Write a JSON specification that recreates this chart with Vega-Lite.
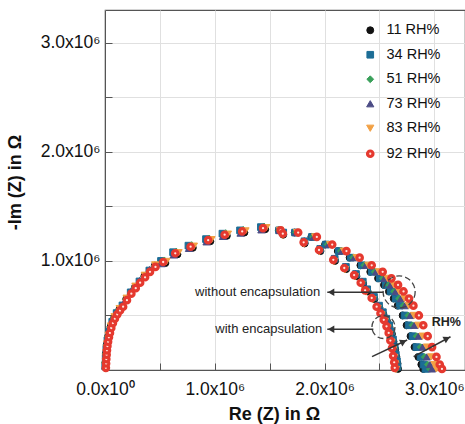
{
  "$schema": "https://vega.github.io/schema/vega-lite/v6.json",
  "width": 360,
  "height": 360,
  "autosize": "none",
  "padding": {"left": 105, "top": 10, "right": 0, "bottom": 54},
  "background": "white",
  "config": {
    "font": "Liberation Sans",
    "view": {"stroke": "#555", "strokeWidth": 1.2},
    "legend": {"orient": "none", "legendX": 258, "legendY": 13, "labelFontSize": 14.5, "labelColor": "#111", "symbolSize": 50, "rowPadding": 9.5, "labelOffset": 9, "labelFont": "Liberation Sans"}
  },
  "layer": [
    {
      "data": {"values": [
        {"rh":"11 RH%","enc":"without","re":4000,"im":72000},{"rh":"11 RH%","enc":"without","re":9000,"im":152000},{"rh":"11 RH%","enc":"without","re":16000,"im":232000},{"rh":"11 RH%","enc":"without","re":30000,"im":312000},{"rh":"11 RH%","enc":"without","re":51000,"im":397000},{"rh":"11 RH%","enc":"without","re":84000,"im":482000},{"rh":"11 RH%","enc":"without","re":131000,"im":557000},{"rh":"11 RH%","enc":"without","re":194000,"im":652000},{"rh":"11 RH%","enc":"without","re":274000,"im":762000},{"rh":"11 RH%","enc":"without","re":359000,"im":862000},{"rh":"11 RH%","enc":"without","re":454000,"im":957000},
        {"rh":"11 RH%","enc":"without","re":550000,"im":980000},{"rh":"11 RH%","enc":"without","re":660000,"im":1060000},{"rh":"11 RH%","enc":"without","re":800000,"im":1120000},{"rh":"11 RH%","enc":"without","re":960000,"im":1180000},{"rh":"11 RH%","enc":"without","re":1110000,"im":1230000},{"rh":"11 RH%","enc":"without","re":1270000,"im":1260000},{"rh":"11 RH%","enc":"without","re":1460000,"im":1290000},
        {"rh":"11 RH%","enc":"without","re":1584000,"im":1280000},{"rh":"11 RH%","enc":"without","re":1728000,"im":1260000},{"rh":"11 RH%","enc":"without","re":1880000,"im":1220000},{"rh":"11 RH%","enc":"without","re":2005000,"im":1150000},{"rh":"11 RH%","enc":"without","re":2121000,"im":1090000},{"rh":"11 RH%","enc":"without","re":2229000,"im":1030000},{"rh":"11 RH%","enc":"without","re":2327000,"im":960000},{"rh":"11 RH%","enc":"without","re":2417000,"im":900000},{"rh":"11 RH%","enc":"without","re":2488000,"im":840000},{"rh":"11 RH%","enc":"without","re":2542000,"im":780000},{"rh":"11 RH%","enc":"without","re":2587000,"im":720000},{"rh":"11 RH%","enc":"without","re":2631000,"im":655000},{"rh":"11 RH%","enc":"without","re":2667000,"im":590000},{"rh":"11 RH%","enc":"without","re":2712000,"im":500000},{"rh":"11 RH%","enc":"without","re":2748000,"im":410000},{"rh":"11 RH%","enc":"without","re":2784000,"im":310000},{"rh":"11 RH%","enc":"without","re":2820000,"im":210000},{"rh":"11 RH%","enc":"without","re":2855000,"im":120000},{"rh":"11 RH%","enc":"without","re":2882000,"im":50000},{"rh":"11 RH%","enc":"without","re":2900000,"im":10000},
        {"rh":"34 RH%","enc":"without","re":2000,"im":32000},{"rh":"34 RH%","enc":"without","re":6000,"im":112000},{"rh":"34 RH%","enc":"without","re":12000,"im":192000},{"rh":"34 RH%","enc":"without","re":22000,"im":272000},{"rh":"34 RH%","enc":"without","re":39000,"im":352000},{"rh":"34 RH%","enc":"without","re":66000,"im":442000},{"rh":"34 RH%","enc":"without","re":106000,"im":522000},{"rh":"34 RH%","enc":"without","re":159000,"im":592000},{"rh":"34 RH%","enc":"without","re":234000,"im":712000},{"rh":"34 RH%","enc":"without","re":314000,"im":812000},{"rh":"34 RH%","enc":"without","re":404000,"im":912000},
        {"rh":"34 RH%","enc":"without","re":510000,"im":1000000},{"rh":"34 RH%","enc":"without","re":620000,"im":1080000},{"rh":"34 RH%","enc":"without","re":760000,"im":1140000},{"rh":"34 RH%","enc":"without","re":920000,"im":1200000},{"rh":"34 RH%","enc":"without","re":1070000,"im":1250000},{"rh":"34 RH%","enc":"without","re":1230000,"im":1280000},{"rh":"34 RH%","enc":"without","re":1420000,"im":1310000},
        {"rh":"34 RH%","enc":"without","re":1586000,"im":1280000},{"rh":"34 RH%","enc":"without","re":1731000,"im":1260000},{"rh":"34 RH%","enc":"without","re":1886000,"im":1220000},{"rh":"34 RH%","enc":"without","re":2013000,"im":1150000},{"rh":"34 RH%","enc":"without","re":2131000,"im":1090000},{"rh":"34 RH%","enc":"without","re":2239000,"im":1030000},{"rh":"34 RH%","enc":"without","re":2339000,"im":960000},{"rh":"34 RH%","enc":"without","re":2430000,"im":900000},{"rh":"34 RH%","enc":"without","re":2503000,"im":840000},{"rh":"34 RH%","enc":"without","re":2557000,"im":780000},{"rh":"34 RH%","enc":"without","re":2602000,"im":720000},{"rh":"34 RH%","enc":"without","re":2648000,"im":655000},{"rh":"34 RH%","enc":"without","re":2684000,"im":590000},{"rh":"34 RH%","enc":"without","re":2729000,"im":500000},{"rh":"34 RH%","enc":"without","re":2766000,"im":410000},{"rh":"34 RH%","enc":"without","re":2802000,"im":310000},{"rh":"34 RH%","enc":"without","re":2838000,"im":210000},{"rh":"34 RH%","enc":"without","re":2875000,"im":120000},{"rh":"34 RH%","enc":"without","re":2902000,"im":50000},{"rh":"34 RH%","enc":"without","re":2920000,"im":10000},
        {"rh":"51 RH%","enc":"without","re":0,"im":68000},{"rh":"51 RH%","enc":"without","re":5000,"im":148000},{"rh":"51 RH%","enc":"without","re":12000,"im":228000},{"rh":"51 RH%","enc":"without","re":26000,"im":308000},{"rh":"51 RH%","enc":"without","re":47000,"im":393000},{"rh":"51 RH%","enc":"without","re":80000,"im":478000},{"rh":"51 RH%","enc":"without","re":127000,"im":553000},{"rh":"51 RH%","enc":"without","re":190000,"im":648000},{"rh":"51 RH%","enc":"without","re":270000,"im":758000},{"rh":"51 RH%","enc":"without","re":355000,"im":858000},{"rh":"51 RH%","enc":"without","re":450000,"im":953000},
        {"rh":"51 RH%","enc":"without","re":540000,"im":1005000},{"rh":"51 RH%","enc":"without","re":650000,"im":1085000},{"rh":"51 RH%","enc":"without","re":790000,"im":1145000},{"rh":"51 RH%","enc":"without","re":950000,"im":1205000},{"rh":"51 RH%","enc":"without","re":1100000,"im":1255000},{"rh":"51 RH%","enc":"without","re":1260000,"im":1285000},{"rh":"51 RH%","enc":"without","re":1450000,"im":1315000},
        {"rh":"51 RH%","enc":"without","re":1590000,"im":1280000},{"rh":"51 RH%","enc":"without","re":1739000,"im":1260000},{"rh":"51 RH%","enc":"without","re":1897000,"im":1220000},{"rh":"51 RH%","enc":"without","re":2028000,"im":1150000},{"rh":"51 RH%","enc":"without","re":2149000,"im":1090000},{"rh":"51 RH%","enc":"without","re":2261000,"im":1030000},{"rh":"51 RH%","enc":"without","re":2363000,"im":960000},{"rh":"51 RH%","enc":"without","re":2457000,"im":900000},{"rh":"51 RH%","enc":"without","re":2531000,"im":840000},{"rh":"51 RH%","enc":"without","re":2587000,"im":780000},{"rh":"51 RH%","enc":"without","re":2634000,"im":720000},{"rh":"51 RH%","enc":"without","re":2680000,"im":655000},{"rh":"51 RH%","enc":"without","re":2718000,"im":590000},{"rh":"51 RH%","enc":"without","re":2764000,"im":500000},{"rh":"51 RH%","enc":"without","re":2802000,"im":410000},{"rh":"51 RH%","enc":"without","re":2839000,"im":310000},{"rh":"51 RH%","enc":"without","re":2876000,"im":210000},{"rh":"51 RH%","enc":"without","re":2913000,"im":120000},{"rh":"51 RH%","enc":"without","re":2941000,"im":50000},{"rh":"51 RH%","enc":"without","re":2960000,"im":10000},
        {"rh":"73 RH%","enc":"without","re":4000,"im":40000},{"rh":"73 RH%","enc":"without","re":8000,"im":120000},{"rh":"73 RH%","enc":"without","re":14000,"im":200000},{"rh":"73 RH%","enc":"without","re":24000,"im":280000},{"rh":"73 RH%","enc":"without","re":41000,"im":360000},{"rh":"73 RH%","enc":"without","re":68000,"im":450000},{"rh":"73 RH%","enc":"without","re":108000,"im":530000},{"rh":"73 RH%","enc":"without","re":161000,"im":600000},{"rh":"73 RH%","enc":"without","re":236000,"im":720000},{"rh":"73 RH%","enc":"without","re":316000,"im":820000},{"rh":"73 RH%","enc":"without","re":406000,"im":920000},
        {"rh":"73 RH%","enc":"without","re":515000,"im":975000},{"rh":"73 RH%","enc":"without","re":625000,"im":1055000},{"rh":"73 RH%","enc":"without","re":765000,"im":1115000},{"rh":"73 RH%","enc":"without","re":925000,"im":1175000},{"rh":"73 RH%","enc":"without","re":1075000,"im":1225000},{"rh":"73 RH%","enc":"without","re":1235000,"im":1255000},{"rh":"73 RH%","enc":"without","re":1425000,"im":1285000},
        {"rh":"73 RH%","enc":"without","re":1592000,"im":1280000},{"rh":"73 RH%","enc":"without","re":1743000,"im":1260000},{"rh":"73 RH%","enc":"without","re":1903000,"im":1220000},{"rh":"73 RH%","enc":"without","re":2036000,"im":1150000},{"rh":"73 RH%","enc":"without","re":2158000,"im":1090000},{"rh":"73 RH%","enc":"without","re":2272000,"im":1030000},{"rh":"73 RH%","enc":"without","re":2376000,"im":960000},{"rh":"73 RH%","enc":"without","re":2470000,"im":900000},{"rh":"73 RH%","enc":"without","re":2546000,"im":840000},{"rh":"73 RH%","enc":"without","re":2602000,"im":780000},{"rh":"73 RH%","enc":"without","re":2649000,"im":720000},{"rh":"73 RH%","enc":"without","re":2697000,"im":655000},{"rh":"73 RH%","enc":"without","re":2734000,"im":590000},{"rh":"73 RH%","enc":"without","re":2782000,"im":500000},{"rh":"73 RH%","enc":"without","re":2819000,"im":410000},{"rh":"73 RH%","enc":"without","re":2857000,"im":310000},{"rh":"73 RH%","enc":"without","re":2895000,"im":210000},{"rh":"73 RH%","enc":"without","re":2933000,"im":120000},{"rh":"73 RH%","enc":"without","re":2961000,"im":50000},{"rh":"73 RH%","enc":"without","re":2980000,"im":10000},
        {"rh":"83 RH%","enc":"without","re":7000,"im":78000},{"rh":"83 RH%","enc":"without","re":12000,"im":158000},{"rh":"83 RH%","enc":"without","re":19000,"im":238000},{"rh":"83 RH%","enc":"without","re":33000,"im":318000},{"rh":"83 RH%","enc":"without","re":54000,"im":403000},{"rh":"83 RH%","enc":"without","re":87000,"im":488000},{"rh":"83 RH%","enc":"without","re":134000,"im":563000},{"rh":"83 RH%","enc":"without","re":197000,"im":658000},{"rh":"83 RH%","enc":"without","re":277000,"im":768000},{"rh":"83 RH%","enc":"without","re":362000,"im":868000},{"rh":"83 RH%","enc":"without","re":457000,"im":963000},
        {"rh":"83 RH%","enc":"without","re":560000,"im":995000},{"rh":"83 RH%","enc":"without","re":670000,"im":1075000},{"rh":"83 RH%","enc":"without","re":810000,"im":1135000},{"rh":"83 RH%","enc":"without","re":970000,"im":1195000},{"rh":"83 RH%","enc":"without","re":1120000,"im":1245000},{"rh":"83 RH%","enc":"without","re":1280000,"im":1275000},{"rh":"83 RH%","enc":"without","re":1470000,"im":1305000},
        {"rh":"83 RH%","enc":"without","re":1595000,"im":1280000},{"rh":"83 RH%","enc":"without","re":1750000,"im":1260000},{"rh":"83 RH%","enc":"without","re":1915000,"im":1220000},{"rh":"83 RH%","enc":"without","re":2051000,"im":1150000},{"rh":"83 RH%","enc":"without","re":2177000,"im":1090000},{"rh":"83 RH%","enc":"without","re":2293000,"im":1030000},{"rh":"83 RH%","enc":"without","re":2400000,"im":960000},{"rh":"83 RH%","enc":"without","re":2497000,"im":900000},{"rh":"83 RH%","enc":"without","re":2574000,"im":840000},{"rh":"83 RH%","enc":"without","re":2632000,"im":780000},{"rh":"83 RH%","enc":"without","re":2681000,"im":720000},{"rh":"83 RH%","enc":"without","re":2729000,"im":655000},{"rh":"83 RH%","enc":"without","re":2768000,"im":590000},{"rh":"83 RH%","enc":"without","re":2816000,"im":500000},{"rh":"83 RH%","enc":"without","re":2855000,"im":410000},{"rh":"83 RH%","enc":"without","re":2894000,"im":310000},{"rh":"83 RH%","enc":"without","re":2933000,"im":210000},{"rh":"83 RH%","enc":"without","re":2972000,"im":120000},{"rh":"83 RH%","enc":"without","re":3001000,"im":50000},{"rh":"83 RH%","enc":"without","re":3020000,"im":10000},
        {"rh":"11 RH%","enc":"with","re":1624000,"im":1240000},{"rh":"11 RH%","enc":"with","re":1819000,"im":1160000},{"rh":"11 RH%","enc":"with","re":1963000,"im":1090000},{"rh":"11 RH%","enc":"with","re":2096000,"im":1000000},{"rh":"11 RH%","enc":"with","re":2198000,"im":925000},{"rh":"11 RH%","enc":"with","re":2291000,"im":860000},{"rh":"11 RH%","enc":"with","re":2352000,"im":790000},{"rh":"11 RH%","enc":"with","re":2393000,"im":720000},{"rh":"11 RH%","enc":"with","re":2455000,"im":650000},{"rh":"11 RH%","enc":"with","re":2501000,"im":570000},{"rh":"11 RH%","enc":"with","re":2537000,"im":510000},{"rh":"11 RH%","enc":"with","re":2568000,"im":450000},{"rh":"11 RH%","enc":"with","re":2593000,"im":390000},{"rh":"11 RH%","enc":"with","re":2614000,"im":330000},{"rh":"11 RH%","enc":"with","re":2629000,"im":260000},{"rh":"11 RH%","enc":"with","re":2644000,"im":190000},{"rh":"11 RH%","enc":"with","re":2655000,"im":120000},{"rh":"11 RH%","enc":"with","re":2665000,"im":60000},{"rh":"11 RH%","enc":"with","re":2670000,"im":10000},
        {"rh":"34 RH%","enc":"with","re":1624000,"im":1260000},{"rh":"34 RH%","enc":"with","re":1818000,"im":1180000},{"rh":"34 RH%","enc":"with","re":1961000,"im":1110000},{"rh":"34 RH%","enc":"with","re":2093000,"im":1020000},{"rh":"34 RH%","enc":"with","re":2195000,"im":945000},{"rh":"34 RH%","enc":"with","re":2287000,"im":880000},{"rh":"34 RH%","enc":"with","re":2349000,"im":810000},{"rh":"34 RH%","enc":"with","re":2389000,"im":740000},{"rh":"34 RH%","enc":"with","re":2451000,"im":670000},{"rh":"34 RH%","enc":"with","re":2497000,"im":590000},{"rh":"34 RH%","enc":"with","re":2532000,"im":530000},{"rh":"34 RH%","enc":"with","re":2563000,"im":470000},{"rh":"34 RH%","enc":"with","re":2589000,"im":410000},{"rh":"34 RH%","enc":"with","re":2609000,"im":350000},{"rh":"34 RH%","enc":"with","re":2624000,"im":280000},{"rh":"34 RH%","enc":"with","re":2640000,"im":210000},{"rh":"34 RH%","enc":"with","re":2650000,"im":140000},{"rh":"34 RH%","enc":"with","re":2660000,"im":80000},{"rh":"34 RH%","enc":"with","re":2665000,"im":30000},
        {"rh":"51 RH%","enc":"with","re":1623000,"im":1245000},{"rh":"51 RH%","enc":"with","re":1816000,"im":1165000},{"rh":"51 RH%","enc":"with","re":1958000,"im":1095000},{"rh":"51 RH%","enc":"with","re":2091000,"im":1005000},{"rh":"51 RH%","enc":"with","re":2192000,"im":930000},{"rh":"51 RH%","enc":"with","re":2284000,"im":865000},{"rh":"51 RH%","enc":"with","re":2345000,"im":795000},{"rh":"51 RH%","enc":"with","re":2385000,"im":725000},{"rh":"51 RH%","enc":"with","re":2446000,"im":655000},{"rh":"51 RH%","enc":"with","re":2492000,"im":575000},{"rh":"51 RH%","enc":"with","re":2528000,"im":515000},{"rh":"51 RH%","enc":"with","re":2558000,"im":455000},{"rh":"51 RH%","enc":"with","re":2584000,"im":395000},{"rh":"51 RH%","enc":"with","re":2604000,"im":335000},{"rh":"51 RH%","enc":"with","re":2619000,"im":265000},{"rh":"51 RH%","enc":"with","re":2635000,"im":195000},{"rh":"51 RH%","enc":"with","re":2645000,"im":125000},{"rh":"51 RH%","enc":"with","re":2655000,"im":65000},{"rh":"51 RH%","enc":"with","re":2660000,"im":15000},
        {"rh":"73 RH%","enc":"with","re":1622000,"im":1265000},{"rh":"73 RH%","enc":"with","re":1815000,"im":1185000},{"rh":"73 RH%","enc":"with","re":1956000,"im":1115000},{"rh":"73 RH%","enc":"with","re":2088000,"im":1025000},{"rh":"73 RH%","enc":"with","re":2189000,"im":950000},{"rh":"73 RH%","enc":"with","re":2280000,"im":885000},{"rh":"73 RH%","enc":"with","re":2341000,"im":815000},{"rh":"73 RH%","enc":"with","re":2382000,"im":745000},{"rh":"73 RH%","enc":"with","re":2442000,"im":675000},{"rh":"73 RH%","enc":"with","re":2488000,"im":595000},{"rh":"73 RH%","enc":"with","re":2523000,"im":535000},{"rh":"73 RH%","enc":"with","re":2554000,"im":475000},{"rh":"73 RH%","enc":"with","re":2579000,"im":415000},{"rh":"73 RH%","enc":"with","re":2599000,"im":355000},{"rh":"73 RH%","enc":"with","re":2615000,"im":285000},{"rh":"73 RH%","enc":"with","re":2630000,"im":215000},{"rh":"73 RH%","enc":"with","re":2640000,"im":145000},{"rh":"73 RH%","enc":"with","re":2650000,"im":85000},{"rh":"73 RH%","enc":"with","re":2655000,"im":35000},
        {"rh":"83 RH%","enc":"with","re":1621000,"im":1235000},{"rh":"83 RH%","enc":"with","re":1813000,"im":1155000},{"rh":"83 RH%","enc":"with","re":1954000,"im":1085000},{"rh":"83 RH%","enc":"with","re":2085000,"im":995000},{"rh":"83 RH%","enc":"with","re":2186000,"im":920000},{"rh":"83 RH%","enc":"with","re":2277000,"im":855000},{"rh":"83 RH%","enc":"with","re":2337000,"im":785000},{"rh":"83 RH%","enc":"with","re":2378000,"im":715000},{"rh":"83 RH%","enc":"with","re":2438000,"im":645000},{"rh":"83 RH%","enc":"with","re":2484000,"im":565000},{"rh":"83 RH%","enc":"with","re":2519000,"im":505000},{"rh":"83 RH%","enc":"with","re":2549000,"im":445000},{"rh":"83 RH%","enc":"with","re":2574000,"im":385000},{"rh":"83 RH%","enc":"with","re":2595000,"im":325000},{"rh":"83 RH%","enc":"with","re":2610000,"im":255000},{"rh":"83 RH%","enc":"with","re":2625000,"im":185000},{"rh":"83 RH%","enc":"with","re":2635000,"im":115000},{"rh":"83 RH%","enc":"with","re":2645000,"im":55000},{"rh":"83 RH%","enc":"with","re":2650000,"im":5000},
        {"rh":"92 RH%","enc":"without","re":8000,"im":20000},{"rh":"92 RH%","enc":"without","re":10000,"im":60000},{"rh":"92 RH%","enc":"without","re":12000,"im":100000},{"rh":"92 RH%","enc":"without","re":15000,"im":140000},{"rh":"92 RH%","enc":"without","re":18000,"im":180000},{"rh":"92 RH%","enc":"without","re":22000,"im":220000},{"rh":"92 RH%","enc":"without","re":28000,"im":260000},{"rh":"92 RH%","enc":"without","re":36000,"im":300000},{"rh":"92 RH%","enc":"without","re":45000,"im":340000},{"rh":"92 RH%","enc":"without","re":57000,"im":385000},{"rh":"92 RH%","enc":"without","re":72000,"im":430000},{"rh":"92 RH%","enc":"without","re":90000,"im":470000},{"rh":"92 RH%","enc":"without","re":112000,"im":510000},{"rh":"92 RH%","enc":"without","re":137000,"im":545000},{"rh":"92 RH%","enc":"without","re":165000,"im":580000},{"rh":"92 RH%","enc":"without","re":200000,"im":640000},{"rh":"92 RH%","enc":"without","re":240000,"im":700000},{"rh":"92 RH%","enc":"without","re":280000,"im":750000},{"rh":"92 RH%","enc":"without","re":320000,"im":800000},{"rh":"92 RH%","enc":"without","re":365000,"im":850000},{"rh":"92 RH%","enc":"without","re":410000,"im":900000},{"rh":"92 RH%","enc":"without","re":460000,"im":945000},
        {"rh":"92 RH%","enc":"without","re":530000,"im":990000},{"rh":"92 RH%","enc":"without","re":640000,"im":1070000},{"rh":"92 RH%","enc":"without","re":780000,"im":1130000},{"rh":"92 RH%","enc":"without","re":940000,"im":1190000},{"rh":"92 RH%","enc":"without","re":1090000,"im":1240000},{"rh":"92 RH%","enc":"without","re":1250000,"im":1270000},{"rh":"92 RH%","enc":"without","re":1440000,"im":1300000},{"rh":"92 RH%","enc":"without","re":1600000,"im":1280000},{"rh":"92 RH%","enc":"without","re":1760000,"im":1260000},
        {"rh":"92 RH%","enc":"without","re":1930000,"im":1220000},{"rh":"92 RH%","enc":"without","re":2070000,"im":1150000},{"rh":"92 RH%","enc":"without","re":2200000,"im":1090000},{"rh":"92 RH%","enc":"without","re":2320000,"im":1030000},{"rh":"92 RH%","enc":"without","re":2430000,"im":960000},{"rh":"92 RH%","enc":"without","re":2530000,"im":900000},{"rh":"92 RH%","enc":"without","re":2610000,"im":840000},{"rh":"92 RH%","enc":"without","re":2670000,"im":780000},{"rh":"92 RH%","enc":"without","re":2720000,"im":720000},{"rh":"92 RH%","enc":"without","re":2770000,"im":655000},{"rh":"92 RH%","enc":"without","re":2810000,"im":590000},{"rh":"92 RH%","enc":"without","re":2860000,"im":500000},{"rh":"92 RH%","enc":"without","re":2900000,"im":410000},{"rh":"92 RH%","enc":"without","re":2940000,"im":310000},{"rh":"92 RH%","enc":"without","re":2980000,"im":210000},{"rh":"92 RH%","enc":"without","re":3020000,"im":120000},{"rh":"92 RH%","enc":"without","re":3050000,"im":50000},{"rh":"92 RH%","enc":"without","re":3070000,"im":10000},
        {"rh":"92 RH%","enc":"with","re":1620000,"im":1250000},{"rh":"92 RH%","enc":"with","re":1810000,"im":1170000},{"rh":"92 RH%","enc":"with","re":1950000,"im":1100000},{"rh":"92 RH%","enc":"with","re":2080000,"im":1010000},{"rh":"92 RH%","enc":"with","re":2180000,"im":935000},{"rh":"92 RH%","enc":"with","re":2270000,"im":870000},{"rh":"92 RH%","enc":"with","re":2330000,"im":800000},{"rh":"92 RH%","enc":"with","re":2370000,"im":730000},{"rh":"92 RH%","enc":"with","re":2430000,"im":660000},{"rh":"92 RH%","enc":"with","re":2475000,"im":580000},{"rh":"92 RH%","enc":"with","re":2510000,"im":520000},{"rh":"92 RH%","enc":"with","re":2540000,"im":460000},{"rh":"92 RH%","enc":"with","re":2565000,"im":400000},{"rh":"92 RH%","enc":"with","re":2585000,"im":340000},{"rh":"92 RH%","enc":"with","re":2600000,"im":270000},{"rh":"92 RH%","enc":"with","re":2615000,"im":200000},{"rh":"92 RH%","enc":"with","re":2625000,"im":130000},{"rh":"92 RH%","enc":"with","re":2635000,"im":70000},{"rh":"92 RH%","enc":"with","re":2640000,"im":20000}
      ]},
      "mark": {"type": "point", "filled": true, "opacity": 1},
      "encoding": {
        "x": {"field": "re", "type": "quantitative", "scale": {"domain": [0, 3280000], "nice": false, "zero": false},
          "axis": {"values": [0, 500000, 1000000, 1500000, 2000000, 2500000, 3000000],
            "labelExpr": "datum.value % 1000000 == 0 ? format(datum.value / 1000000, '.1f') + 'x10' + (datum.value == 0 ? '⁰' : '⁶') : ''",
            "title": "Re (Z) in Ω", "grid": true, "gridColor": "#e0e0e0", "domainColor": "#555", "tickColor": "#555", "tickSize": -7,
            "labelFontSize": 17.5, "labelColor": "#111", "labelPadding": 17, "labelFlush": false, "labelOverlap": false,
            "titleFontSize": 18, "titleFontWeight": "bold", "titleColor": "#111", "titleX": 169, "titleY": 44, "titleBaseline": "middle"}},
        "y": {"field": "im", "type": "quantitative", "scale": {"domain": [0, 3300000], "nice": false, "zero": false},
          "axis": {"values": [0, 500000, 1000000, 1500000, 2000000, 2500000, 3000000],
            "labelExpr": "datum.value % 1000000 == 0 && datum.value > 0 ? format(datum.value / 1000000, '.1f') + 'x10⁶' : ''",
            "title": "-Im (Z) in Ω", "grid": true, "gridColor": "#e0e0e0", "domainColor": "#555", "tickColor": "#555", "tickSize": -7,
            "labelFontSize": 17.5, "labelColor": "#111", "labelPadding": 12, "labelOverlap": false,
            "titleFontSize": 18, "titleFontWeight": "bold", "titleColor": "#111", "titleX": -90, "titleY": 172, "titleBaseline": "middle", "titleAlign": "center", "titleAngle": 270}},
        "shape": {"field": "rh", "type": "nominal", "title": null,
          "scale": {"domain": ["11 RH%", "34 RH%", "51 RH%", "73 RH%", "83 RH%", "92 RH%"], "range": ["circle", "square", "diamond", "triangle-up", "triangle-down", "circle"]}},
        "fill": {"field": "rh", "type": "nominal", "title": null,
          "scale": {"domain": ["11 RH%", "34 RH%", "51 RH%", "73 RH%", "83 RH%", "92 RH%"], "range": ["#111111", "#1c6d96", "#3aa05a", "#4b4b85", "#f2a044", "#ffe6e0"]}},
        "stroke": {"field": "rh", "type": "nominal", "title": null,
          "scale": {"domain": ["11 RH%", "34 RH%", "51 RH%", "73 RH%", "83 RH%", "92 RH%"], "range": ["#111111", "#1c6d96", "#3aa05a", "#4b4b85", "#f2a044", "#e5392f"]}},
        "strokeWidth": {"field": "rh", "type": "nominal", "title": null,
          "scale": {"type": "ordinal", "domain": ["11 RH%", "34 RH%", "51 RH%", "73 RH%", "83 RH%", "92 RH%"], "range": [1, 1, 1, 1, 1, 3.2]}},
        "size": {"field": "rh", "type": "nominal", "title": null,
          "scale": {"type": "ordinal", "domain": ["11 RH%", "34 RH%", "51 RH%", "73 RH%", "83 RH%", "92 RH%"], "range": [48, 44, 46, 52, 52, 30]}}
      }
    },
    {
      "data": {"values": [
        {"re": 2536000, "im": 713000, "re2": 2025000, "im2": 713000},
        {"re": 2445000, "im": 373000, "re2": 2025000, "im2": 373000},
        {"re": 2433000, "im": 122000, "re2": 2753000, "im2": 275000},
        {"re": 2812000, "im": 122000, "re2": 3148000, "im2": 305000}
      ]},
      "mark": {"type": "rule", "color": "#333", "strokeWidth": 1.5},
      "encoding": {
        "x": {"field": "re", "type": "quantitative"},
        "y": {"field": "im", "type": "quantitative"},
        "x2": {"field": "re2"},
        "y2": {"field": "im2"}
      }
    },
    {
      "data": {"values": [{"re": 2060000, "im": 713000}, {"re": 2060000, "im": 373000}]},
      "mark": {"type": "point", "shape": "triangle-left", "filled": true, "opacity": 1, "color": "#333", "size": 55},
      "encoding": {"x": {"field": "re", "type": "quantitative"}, "y": {"field": "im", "type": "quantitative"}}
    },
    {
      "data": {"values": [{"re": 2720000, "im": 260000}, {"re": 3116000, "im": 288000}]},
      "mark": {"type": "point", "shape": "triangle-up", "filled": true, "opacity": 1, "color": "#333", "size": 55, "angle": 63},
      "encoding": {"x": {"field": "re", "type": "quantitative"}, "y": {"field": "im", "type": "quantitative"}}
    },
    {
      "data": {"values": [{"re": 2680000, "im": 716000}]},
      "mark": {"type": "point", "shape": "circle", "filled": false, "opacity": 1, "color": "#444", "size": 1024, "strokeWidth": 1.3, "strokeDash": [6, 3]},
      "encoding": {"x": {"field": "re", "type": "quantitative"}, "y": {"field": "im", "type": "quantitative"}}
    },
    {
      "data": {"values": [{"re": 2537000, "im": 394000}]},
      "mark": {"type": "point", "shape": "circle", "filled": false, "opacity": 1, "color": "#444", "size": 529, "strokeWidth": 1.3, "strokeDash": [6, 3]},
      "encoding": {"x": {"field": "re", "type": "quantitative"}, "y": {"field": "im", "type": "quantitative"}}
    },
    {
      "data": {"values": [
        {"re": 1960000, "im": 713000, "label": "without encapsulation"},
        {"re": 1980000, "im": 373000, "label": "with encapsulation"}
      ]},
      "mark": {"type": "text", "align": "right", "baseline": "middle", "font": "Liberation Sans", "fontSize": 13, "color": "#222"},
      "encoding": {"x": {"field": "re", "type": "quantitative"}, "y": {"field": "im", "type": "quantitative"}, "text": {"field": "label"}}
    },
    {
      "data": {"values": [{"re": 3110000, "im": 440000, "label": "RH%"}]},
      "mark": {"type": "text", "align": "center", "baseline": "middle", "font": "Liberation Sans", "fontSize": 12.5, "fontWeight": "bold", "color": "#222"},
      "encoding": {"x": {"field": "re", "type": "quantitative"}, "y": {"field": "im", "type": "quantitative"}, "text": {"field": "label"}}
    }
  ]
}
